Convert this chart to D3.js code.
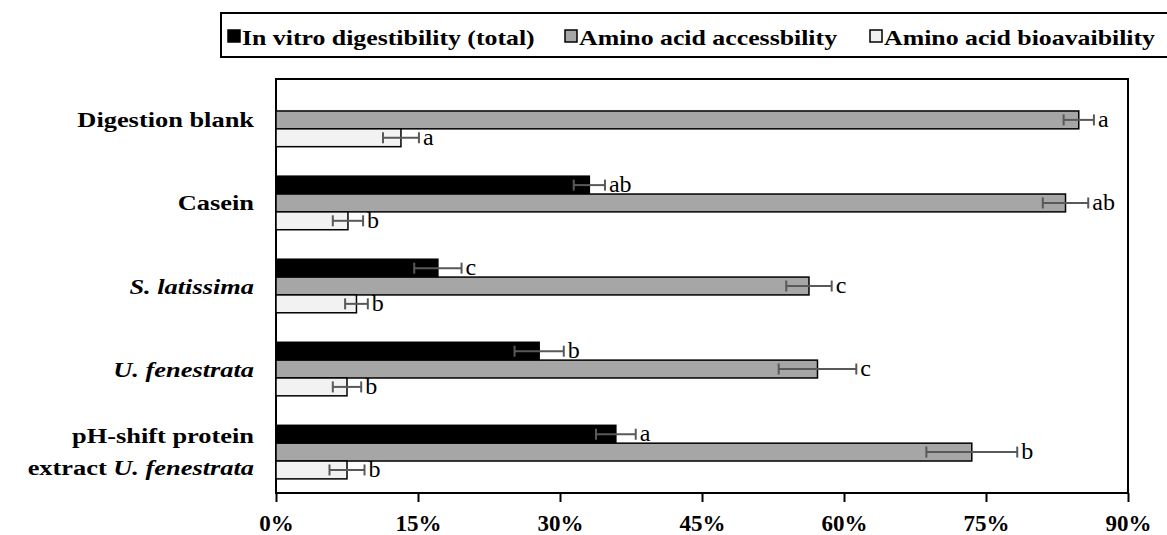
<!DOCTYPE html>
<html>
<head>
<meta charset="utf-8">
<script src="https://cdn.jsdelivr.net/npm/d3@7"></script>
<style>
  body { margin: 0; background: #fff; }
  svg { display: block; font-family: "Liberation Serif", "Times New Roman", serif; }
</style>
</head>
<body>
<svg width="1167" height="535"></svg>
<script>
// Data (percent values).

var categories = ['Digestion blank', 'Casein', 'S. latissima', 'U. fenestrata', 'pH-shift protein extract U. fenestrata'];
var seriesNames = ['In vitro digestibility (total)', 'Amino acid accessbility', 'Amino acid bioavaibility'];

var digestibility = [null, 33.1, 17.1, 27.8, 35.9];
var digestibilityErr = [null, 1.65, 2.5, 2.6, 2.1];
var digestibilityLetters = ['', 'ab', 'c', 'b', 'a'];

var accessibility = [84.8, 83.4, 56.3, 57.2, 73.5];
var accessibilityErr = [1.6, 2.4, 2.4, 4.1, 4.8];
var accessibilityLetters = ['a', 'ab', 'c', 'c', 'b'];

var bioavailability = [13.2, 7.6, 8.5, 7.5, 7.5];
var bioavailabilityErr = [1.9, 1.6, 1.2, 1.5, 1.85];
var bioavailabilityLetters = ['a', 'b', 'b', 'b', 'b'];

var xTicks = [0, 15, 30, 45, 60, 75, 90];

// Build rows for drawing.

var values = [digestibility, accessibility, bioavailability];
var errs = [digestibilityErr, accessibilityErr, bioavailabilityErr];
var letters = [digestibilityLetters, accessibilityLetters, bioavailabilityLetters];
var colors = ['#000000', '#a6a6a6', '#f2f2f2'];

var rows = [];
categories.forEach(function(c, i) {
  seriesNames.forEach(function(s, j) {
    if (values[j][i] == null) return;
    rows.push({cat: c, key: s, value: values[j][i], err: errs[j][i], letter: letters[j][i]});
  });
});

var svg = d3.select('svg');
var plotLeft = 276, plotRight = 1128, plotTop = 79, plotBottom = 493;

var x = d3.scaleLinear().domain([0, 90]).range([plotLeft, plotRight]);
var y = d3.scaleBand().domain(categories).range([plotTop, plotBottom]).paddingInner(0.355).paddingOuter(0.17);
var y1 = d3.scaleBand().domain(seriesNames).range([0, y.bandwidth()]);
var z = d3.scaleOrdinal().domain(seriesNames).range(colors);

// helper: text stretched horizontally like the original
function stretched(g, tx, ty, sx) {
  return g.append('text').attr('transform', 'translate(' + tx + ',' + ty + ') scale(' + sx + ',1)');
}

// Frame.

svg.append('rect')
  .attr('x', plotLeft).attr('y', plotTop)
  .attr('width', plotRight - plotLeft).attr('height', plotBottom - plotTop)
  .attr('fill', 'none').attr('stroke', '#000').attr('stroke-width', 2);

// Bars.

svg.append('g').selectAll('rect')
  .data(rows)
  .enter().append('rect')
  .attr('x', x(0))
  .attr('y', function(d) { return y(d.cat) + y1(d.key); })
  .attr('width', function(d) { return x(d.value) - x(0); })
  .attr('height', y1.bandwidth())
  .attr('fill', function(d) { return z(d.key); })
  .attr('stroke', '#000').attr('stroke-width', 1.5);

// Error bars.

var eb = svg.append('g').attr('stroke', '#595959').attr('stroke-width', 2);
rows.forEach(function(d) {
  var cy = y(d.cat) + y1(d.key) + y1.bandwidth() / 2;
  var x0 = x(d.value - d.err), x1 = x(d.value + d.err);
  eb.append('line').attr('x1', x0).attr('x2', x1).attr('y1', cy).attr('y2', cy);
  eb.append('line').attr('x1', x0).attr('x2', x0).attr('y1', cy - 5.5).attr('y2', cy + 5.5);
  eb.append('line').attr('x1', x1).attr('x2', x1).attr('y1', cy - 5.5).attr('y2', cy + 5.5);
});

// Significance letters.

svg.append('g').selectAll('text')
  .data(rows)
  .enter().append('text')
  .attr('x', function(d) { return x(d.value + d.err) + 4; })
  .attr('y', function(d) { return y(d.cat) + y1(d.key) + y1.bandwidth() / 2 + 7; })
  .attr('font-size', 24)
  .attr('fill', '#000')
  .text(function(d) { return d.letter; });

// X axis.

var xAxis = svg.append('g')
  .attr('transform', 'translate(0,' + plotBottom + ')')
  .call(d3.axisBottom(x).tickValues(xTicks).tickSize(9).tickPadding(13)
    .tickFormat(function(d) { return d + '%'; }));
xAxis.select('.domain').remove();
xAxis.selectAll('line').attr('stroke', '#000').attr('stroke-width', 2);
xAxis.selectAll('text')
  .attr('font-family', '"Liberation Serif", serif')
  .attr('font-weight', 'bold')
  .attr('font-size', 23)
  .attr('fill', '#000');

// Category labels.

var catG = svg.append('g').attr('font-size', 22).attr('font-weight', 'bold').attr('text-anchor', 'end');
function addLabel(parts, cy) {
  var t = stretched(catG, 254, cy, 1.2);
  parts.forEach(function(p) {
    t.append('tspan').attr('font-style', p[1] ? 'italic' : null).text(p[0]);
  });
}
addLabel([['Digestion blank', 0]], y('Digestion blank') + y.bandwidth() / 2 + 7.5);
addLabel([['Casein', 0]], y('Casein') + y.bandwidth() / 2 + 7.5);
addLabel([['S. latissima', 1]], y('S. latissima') + y.bandwidth() / 2 + 7.5);
addLabel([['U. fenestrata', 1]], y('U. fenestrata') + y.bandwidth() / 2 + 7.5);
var pc = y('pH-shift protein extract U. fenestrata') + y.bandwidth() / 2;
addLabel([['pH-shift protein', 0]], pc - 9);
addLabel([['extract ', 0], ['U. fenestrata', 1]], pc + 23);

// Legend.

var legend = svg.append('g');
legend.append('rect')
  .attr('x', 221).attr('y', 13).attr('width', 960).attr('height', 44)
  .attr('fill', 'none').attr('stroke', '#000').attr('stroke-width', 2);

var legendX = [228, 565, 870];
seriesNames.forEach(function(s, i) {
  legend.append('rect')
    .attr('x', legendX[i]).attr('y', 30).attr('width', 12).attr('height', 12)
    .attr('fill', z(s)).attr('stroke', '#000').attr('stroke-width', 1.5);
  stretched(legend, legendX[i] + 14, 45, 1.23)
    .attr('font-size', 21).attr('font-weight', 'bold')
    .text(s);
});
</script>
</body>
</html>
